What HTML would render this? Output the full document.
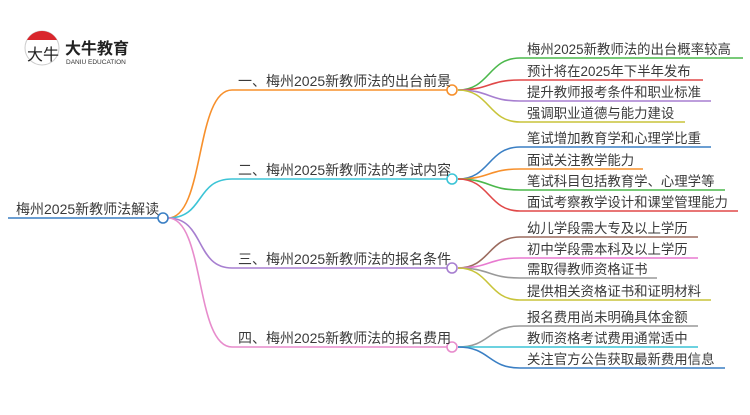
<!DOCTYPE html>
<html><head><meta charset="utf-8"><style>
html,body{margin:0;padding:0;background:#fff;}
svg text{font-family:"Liberation Sans","Noto Sans CJK SC",sans-serif;fill:#3a3a3a;}
</style></head><body>
<svg width="750" height="410" viewBox="0 0 750 410" xmlns="http://www.w3.org/2000/svg">
<!-- logo -->
<circle cx="42" cy="48" r="17" fill="#fff" stroke="#ccc" stroke-width="1"/>
<path d="M27 40 A17 17 0 0 1 57 40 Z" fill="#d9262c"/>
<text x="27" y="60" font-size="16" style="fill:#222">大牛</text>
<text x="65" y="54" font-size="16" font-weight="bold" style="fill:#222">大牛教育</text>
<text x="66" y="64" font-size="6.5" style="fill:#333">DANIU EDUCATION</text>

<g fill="none" stroke-width="1.6">
<line x1="8" y1="218" x2="158" y2="218" stroke="#3a7fc4"/>
<path d="M168 218 C205 218,195 90,232 90 L447 90" stroke="#f7902c"/>
<path d="M168 218 C205 218,195 179,232 179 L447 179" stroke="#3cc4d6"/>
<path d="M168 218 C205 218,195 268,232 268 L447 268" stroke="#a77fd0"/>
<path d="M168 218 C205 218,195 347,232 347 L447 347" stroke="#e78ccc"/>
<path d="M458 90 C490 90,488 58,520 58 L743 58" stroke="#4cb84c"/>
<path d="M458 90 C490 90,488 80,520 80 L703 80" stroke="#e04848"/>
<path d="M458 90 C490 90,488 101,520 101 L711 101" stroke="#a77fd0"/>
<path d="M458 90 C490 90,488 122,520 122 L685 122" stroke="#c8c43a"/>
<path d="M458 179 C490 179,488 147,520 147 L711 147" stroke="#3a7fc4"/>
<path d="M458 179 C490 179,488 169,520 169 L643 169" stroke="#f7902c"/>
<path d="M458 179 C490 179,488 190,520 190 L725 190" stroke="#4cb84c"/>
<path d="M458 179 C490 179,488 211,520 211 L738 211" stroke="#e04848"/>
<path d="M458 268 C490 268,488 237,520 237 L698 237" stroke="#9b6b5e"/>
<path d="M458 268 C490 268,488 258,520 258 L698 258" stroke="#e87ad0"/>
<path d="M458 268 C490 268,488 278,520 278 L657 278" stroke="#999"/>
<path d="M458 268 C490 268,488 300,520 300 L711 300" stroke="#c8c43a"/>
<path d="M458 347 C490 347,488 326,520 326 L698 326" stroke="#999"/>
<path d="M458 347 C490 347,488 347,520 347 L698 347" stroke="#3cc4d6"/>
<path d="M458 347 C490 347,488 368,520 368 L725 368" stroke="#3a7fc4"/>
</g>
<g fill="#fff" stroke-width="1.6">
<circle cx="163" cy="218" r="5" stroke="#3a7fc4"/>
<circle cx="452" cy="90" r="5" stroke="#f7902c"/>
<circle cx="452" cy="179" r="5" stroke="#3cc4d6"/>
<circle cx="452" cy="268" r="5" stroke="#a77fd0"/>
<circle cx="452" cy="347" r="5" stroke="#e78ccc"/>
</g>
<g font-size="14">
<text x="16" y="214">梅州2025新教师法解读</text>
<text x="238" y="86">一、梅州2025新教师法的出台前景</text>
<text x="238" y="175">二、梅州2025新教师法的考试内容</text>
<text x="238" y="264">三、梅州2025新教师法的报名条件</text>
<text x="238" y="343">四、梅州2025新教师法的报名费用</text>
</g>
<g font-size="13.4">
<text x="527" y="54">梅州2025新教师法的出台概率较高</text>
<text x="527" y="76">预计将在2025年下半年发布</text>
<text x="527" y="97">提升教师报考条件和职业标准</text>
<text x="527" y="118">强调职业道德与能力建设</text>
<text x="527" y="143">笔试增加教育学和心理学比重</text>
<text x="527" y="165">面试关注教学能力</text>
<text x="527" y="186">笔试科目包括教育学、心理学等</text>
<text x="527" y="207">面试考察教学设计和课堂管理能力</text>
<text x="527" y="233">幼儿学段需大专及以上学历</text>
<text x="527" y="254">初中学段需本科及以上学历</text>
<text x="527" y="274">需取得教师资格证书</text>
<text x="527" y="296">提供相关资格证书和证明材料</text>
<text x="527" y="322">报名费用尚未明确具体金额</text>
<text x="527" y="343">教师资格考试费用通常适中</text>
<text x="527" y="364">关注官方公告获取最新费用信息</text>
</g>
</svg>
</body></html>
